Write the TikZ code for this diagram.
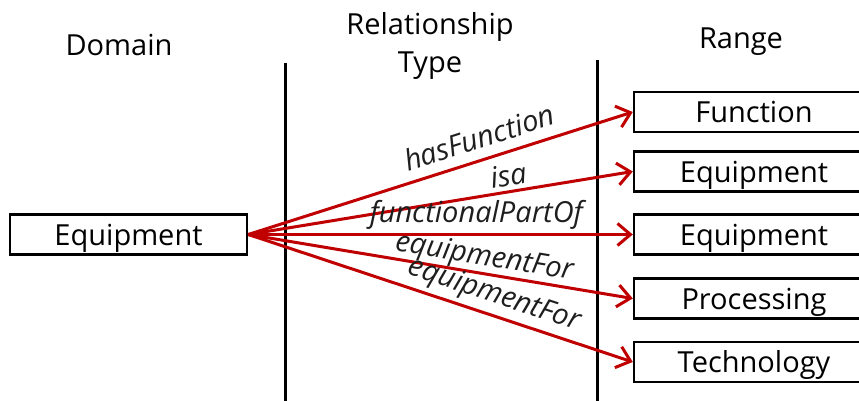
\documentclass[tikz,border=0pt]{standalone}
\usepackage{fontspec}
\setmainfont{Open Sans}
\usetikzlibrary{arrows.meta}
\definecolor{relred}{RGB}{192,0,0}
\definecolor{lbltext}{RGB}{30,30,30}
\begin{document}
\begin{tikzpicture}[x=1pt,y=-1pt,
  box/.style={draw=black,line width=2.4pt,minimum height=40pt,inner sep=0pt,text height=21pt,text depth=0pt,font=\fontsize{29}{34}\selectfont},
  head/.style={align=center,font=\fontsize{29}{38}\selectfont,inner sep=0pt},
  divider/.style={line width=3pt,black},
  rel/.style={relred,line width=3pt,-{Straight Barb[length=13pt,width=22pt,line width=3pt]}},
  lbl/.style={text=lbltext,font=\fontsize{29}{34}\selectfont\itshape,sloped,anchor=south,inner xsep=0pt}
]
\useasboundingbox (0,0) rectangle (859,401);
\node[head] (hdom) at (119,45) {Domain};
\node[head] (hrel) at (430,46) {Relationship\\Type};
\node[head] (hran) at (741,42) {Range};
\coordinate (l1) at (285,63);
\coordinate (l2) at (285,401);
\coordinate (r1) at (597,60);
\coordinate (r2) at (597,401);
\draw[divider] (l1) -- (l2);
\draw[divider] (r1) -- (r2);
\node[box,minimum width=237pt] (dom) at (128.5,234.5) {Equipment};
\node[box,minimum width=240pt] (f) at (754,112) {Function};
\node[box,minimum width=240pt] (e1) at (754,171.5) {Equipment};
\node[box,minimum width=240pt] (e2) at (754,234.5) {Equipment};
\node[box,minimum width=240pt] (p) at (754,298.5) {Processing};
\node[box,minimum width=240pt] (t) at (754,362) {Technology};
\draw[rel] (dom.east) -- node[lbl,pos=0.618,inner ysep=10pt] {hasFunction} (f.west);
\draw[rel] (dom.east) -- node[lbl,pos=0.683,inner ysep=4pt] {isa} (e1.west);
\draw[rel] (dom.east) -- node[lbl,pos=0.593,inner ysep=4pt] {functionalPartOf} (e2.west);
\draw[rel] (dom.east) -- node[lbl,pos=0.607,inner ysep=0pt] {equipmentFor} (p.west);
\draw[rel] (dom.east) -- node[lbl,pos=0.624,inner ysep=4pt] {equipmentFor} (t.west);
\end{tikzpicture}
\end{document}
